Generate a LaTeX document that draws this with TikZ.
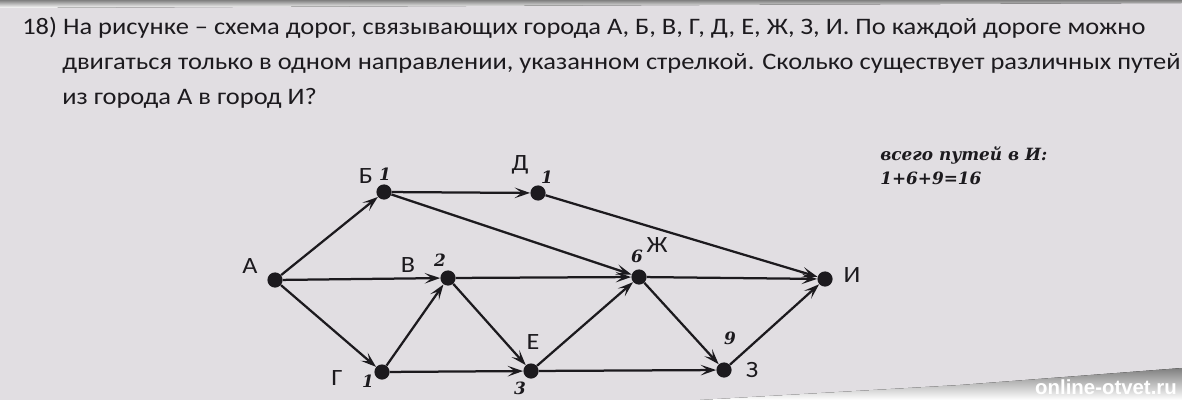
\documentclass[tikz,border=0pt]{standalone}
\usepackage{fontspec}
\setmainfont{Carlito}[FakeStretch=1.12]
\newfontfamily\numfont{DejaVu Serif}
\newfontfamily\markfont{Liberation Sans}
\usetikzlibrary{arrows.meta,positioning}
\definecolor{paper}{RGB}{225,222,226}
\definecolor{ink}{RGB}{28,26,30}
\definecolor{shade}{RGB}{36,27,27}

\begin{document}
\begin{tikzpicture}[x=0.025cm,y=-0.025cm,
  city/.style={circle,fill=ink,inner sep=0pt,minimum size=0.38cm},
  road/.style={ink,line width=1.6pt,-{Stealth[length=11pt,width=7.5pt,inset=5pt]}},
  cityname/.style={text=ink,font=\fontsize{16.6}{19}\selectfont,inner sep=0pt},
  pathcount/.style={text=ink,font=\numfont\bfseries\itshape\fontsize{12}{14}\selectfont,inner sep=0pt},
  qline/.style={text=ink,font=\fontsize{16.8}{20}\selectfont,anchor=base west,inner sep=0pt}]
\fill[paper] (0,0) rectangle (1182,400);
\useasboundingbox (0,0) rectangle (1182,400);
\fill[shade] (0,0) -- (1182,0) -- (1182,3) -- (700,5) -- (0,8) -- cycle;
\fill[shade] (700,400) -- (960,385) -- (1182,368) -- (1182,400) -- cycle;

% question
\node[qline] (q1) at (22,35) {18) На рисунке – схема дорог, связывающих города А, Б, В, Г, Д, Е, Ж, З, И. По каждой дороге можно};
\node[qline] (q2) at (62,70) {двигаться только в одном направлении, указанном стрелкой. Сколько существует различных путей};
\node[qline] (q3) at (62,105) {из города А в город И?};

% cities
\node[city] (a) at (275,280) {};
\node[city] (b) at (384,192) {};
\node[city] (d) at (538,193) {};
\node[city] (v) at (448,278) {};
\node[city] (zh) at (639,277) {};
\node[city] (i) at (825,279) {};
\node[city] (g) at (382,372) {};
\node[city] (e) at (531,371) {};
\node[city] (z) at (724,370) {};

% roads
\foreach \from/\to in {a/b,a/v,a/g,b/d,b/zh,d/i,v/zh,v/e,g/v,g/e,e/zh,e/z,zh/i,zh/z,z/i}
  \draw[road] (\from) -- (\to);

% names
\node[cityname] (la) at (250,266) {А};
\node[cityname] (lb) at (366,176) {Б};
\node[cityname] (ld) at (520,165) {Д};
\node[cityname] (lv) at (408,265) {В};
\node[cityname] (lzh) at (657,245) {Ж};
\node[cityname] (li) at (852,275) {И};
\node[cityname] (lg) at (337,378) {Г};
\node[cityname] (le) at (533,342) {Е};
\node[cityname] (lz) at (752,370) {З};

% path counts
\node[pathcount] (nb) at (385,174) {1};
\node[pathcount] (nd) at (547,177) {1};
\node[pathcount] (nv) at (440,260) {2};
\node[pathcount] (nzh) at (637,256) {6};
\node[pathcount] (ng) at (368,381) {1};
\node[pathcount] (ne) at (520,388) {3};
\node[pathcount] (nz) at (730,338) {9};

\node[pathcount,anchor=west] (sum1) at (880,155) {всего путей в И:};
\node[pathcount,anchor=west] (sum2) at (880,178) {1+6+9=16};

\node[text=white,font=\markfont\bfseries\fontsize{14.5}{16}\selectfont,inner sep=0pt] (mark) at (1106,387) {online-otvet.ru};
\end{tikzpicture}
\end{document}
